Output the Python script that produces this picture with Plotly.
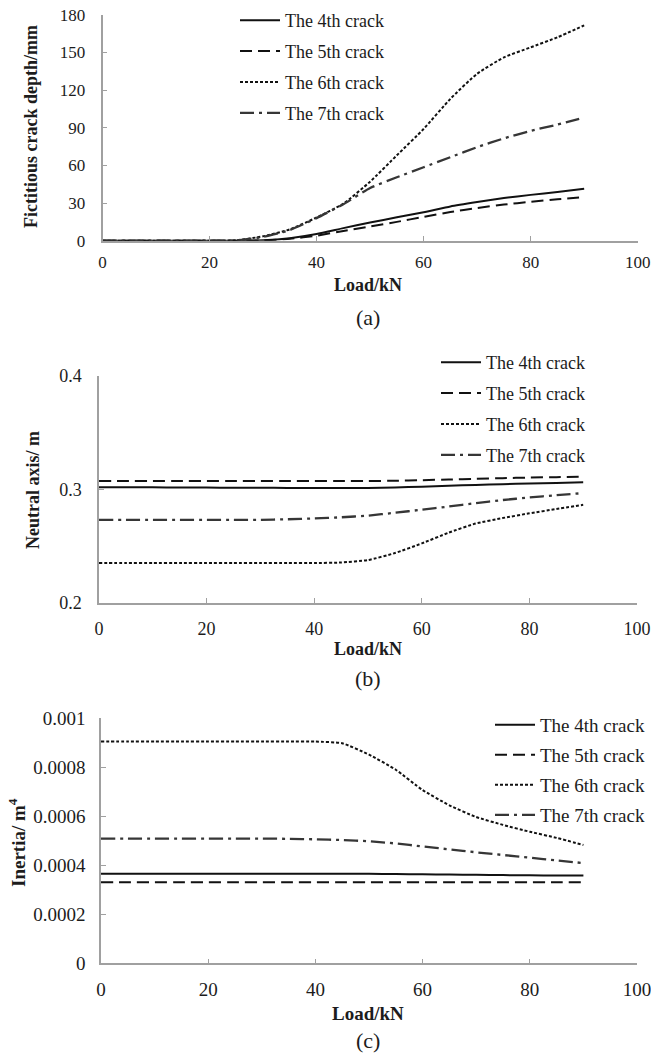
import plotly.graph_objects as go

# ---------------- data ----------------
load = [0, 5, 10, 15, 20, 25, 30, 35, 40, 45, 50, 55, 60, 65, 70, 75, 80, 85, 90]
names = ["The 4th crack", "The 5th crack", "The 6th crack", "The 7th crack"]

# (a) fictitious crack depth / mm
depth_4 = [0, 0, 0, 0, 0, 0, 0.3, 2, 5.3, 10, 14.5, 18.6, 22.6, 27.3, 30.8, 34, 36.5, 38.8, 41.3]
depth_5 = [0, 0, 0, 0, 0, 0, 0.2, 1.5, 4, 7.8, 11.3, 15, 19, 22.8, 26, 28.8, 31, 33, 34.8]
depth_6 = [0, 0, 0, 0, 0, 0.3, 3.5, 9, 18.5, 29.5, 47, 68, 89, 113, 133, 146, 154, 162, 171.5]
depth_7 = [0, 0, 0, 0, 0, 0.2, 3, 8.5, 18, 29, 42, 50.5, 58.5, 66.5, 74.5, 81.5, 87.5, 92.5, 98]

# (b) neutral axis / m
na_4 = [0.3020, 0.3020, 0.3019, 0.3018, 0.3017, 0.3016, 0.3015, 0.3014, 0.3013, 0.3013,
        0.3014, 0.3018, 0.3025, 0.3033, 0.3040, 0.3047, 0.3053, 0.3058, 0.3063]
na_5 = [0.3075, 0.3075, 0.3075, 0.3075, 0.3075, 0.3075, 0.3075, 0.3075, 0.3075, 0.3075,
        0.3075, 0.3077, 0.3082, 0.3088, 0.3094, 0.3100, 0.3105, 0.3109, 0.3113]
na_6 = [0.2352, 0.2352, 0.2352, 0.2352, 0.2352, 0.2352, 0.2352, 0.2352, 0.2352, 0.2357,
        0.2378, 0.2440, 0.2525, 0.2620, 0.2700, 0.2748, 0.2790, 0.2828, 0.2865]
na_7 = [0.2733, 0.2733, 0.2733, 0.2733, 0.2733, 0.2733, 0.2733, 0.2738, 0.2745, 0.2755,
        0.2770, 0.2795, 0.2822, 0.2850, 0.2880, 0.2907, 0.2930, 0.2950, 0.2968]

# (c) inertia / m^4
in_4 = [0.000365, 0.000365, 0.000365, 0.000365, 0.000365, 0.000365, 0.000365, 0.000365, 0.000365, 0.000365,
        0.000365, 0.000364, 0.000363, 0.000362, 0.000361, 0.000360, 0.000359, 0.000358, 0.000358]
in_5 = [0.000331] * 19
in_6 = [0.000905, 0.000905, 0.000905, 0.000905, 0.000905, 0.000905, 0.000905, 0.000905, 0.000905, 0.000898,
        0.000852, 0.000790, 0.000707, 0.000645, 0.000597, 0.000565, 0.000537, 0.000512, 0.000483]
in_7 = [0.000509, 0.000509, 0.000509, 0.000509, 0.000509, 0.000509, 0.000509, 0.000508, 0.000506, 0.000503,
        0.000498, 0.000489, 0.000477, 0.000465, 0.000453, 0.000442, 0.000431, 0.000420, 0.000409]

x_ticks = [0, 20, 40, 60, 80, 100]
ya_ticks = [0, 30, 60, 90, 120, 150, 180]
yb_ticks = [0.2, 0.3, 0.4]
yb_text = ["0.2", "0.3", "0.4"]
yc_ticks = [0, 0.0002, 0.0004, 0.0006, 0.0008, 0.001]
yc_text = ["0", "0.0002", "0.0004", "0.0006", "0.0008", "0.001"]

# ---------------- styling ----------------
F = "Liberation Serif, 'Times New Roman', Times, serif"
TXT = "#1c1c1c"
styles = [
    dict(color="#111111", width=2, dash="solid"),
    dict(color="#111111", width=2, dash="12px,6px"),
    dict(color="#111111", width=2, dash="3px,2px"),
    dict(color="#363636", width=2.3, dash="14px,5px,3px,5px"),
]

fig = go.Figure()
panels = [
    ([depth_4, depth_5, depth_6, depth_7], "x", "y", "legend"),
    ([na_4, na_5, na_6, na_7], "x2", "y2", "legend2"),
    ([in_4, in_5, in_6, in_7], "x3", "y3", "legend3"),
]
for p, (series, xa, ya, lg) in enumerate(panels):
    for i, s in enumerate(series):
        fig.add_trace(go.Scatter(
            x=load, y=s, mode="lines", name=names[i],
            line=dict(shape="spline", smoothing=0.5, **styles[i]),
            xaxis=xa, yaxis=ya, legend=lg, legendgroup=f"{lg}_{i}",
            showlegend=True, hoverinfo="skip"))

W, H = 651, 1053


def fx(px):
    return px / W


def fy(py):
    return 1 - py / H


def axis_common(size):
    return dict(showline=True, linecolor="#a0a0a0", linewidth=1.5,
                ticks="inside", ticklen=5, tickcolor="#a0a0a0", tickwidth=1,
                showgrid=False, zeroline=False, automargin=False,
                ticklabeloverflow="allow",
                tickfont=dict(family=F, size=size, color=TXT))


fig.update_layout(
    width=W, height=H, margin=dict(l=0, r=0, t=0, b=0),
    paper_bgcolor="white", plot_bgcolor="white", showlegend=True,
    xaxis=dict(domain=[fx(102.5), fx(637.7)], range=[0, 100], anchor="y",
               tickvals=x_ticks, ticklabelstandoff=5, **axis_common(17)),
    yaxis=dict(domain=[fy(240.7), fy(14.7)], range=[0, 180], anchor="x",
               tickvals=ya_ticks, ticklabelstandoff=12, **axis_common(17)),
    xaxis2=dict(domain=[fx(99), fx(637)], range=[0, 100], anchor="y2",
                tickvals=x_ticks, ticklabelstandoff=9, **axis_common(18)),
    yaxis2=dict(domain=[fy(603), fy(376)], range=[0.2, 0.4], anchor="x2",
                tickvals=yb_ticks, ticktext=yb_text, ticklabelstandoff=12, **axis_common(18)),
    xaxis3=dict(domain=[fx(101), fx(637)], range=[0, 100], anchor="y3",
                tickvals=x_ticks, ticklabelstandoff=8, **axis_common(19)),
    yaxis3=dict(domain=[fy(963.3), fy(718.3)], range=[0, 0.001], anchor="x3",
                tickvals=yc_ticks, ticktext=yc_text, ticklabelstandoff=10, **axis_common(19)),
)

leg_common = dict(xanchor="left", yanchor="top", bgcolor="rgba(0,0,0,0)",
                  borderwidth=0, itemwidth=40, itemclick=False)
fig.update_layout(
    legend=dict(x=fx(235), y=fy(2), tracegroupgap=4.5,
                font=dict(family=F, size=18, color=TXT), **leg_common),
    legend2=dict(x=fx(436), y=fy(344), tracegroupgap=4.5,
                 font=dict(family=F, size=18, color=TXT), **leg_common),
    legend3=dict(x=fx(490), y=fy(706), tracegroupgap=2.3,
                 font=dict(family=F, size=19, color=TXT), **leg_common),
)

ann = []
# y-axis titles
ann.append(dict(text="<b>Fictitious crack depth/mm</b>", x=fx(31), y=fy(127), textangle=-90,
                font=dict(family=F, size=18, color=TXT)))
ann.append(dict(text="<b>Neutral axis/ m</b>", x=fx(33), y=fy(490), textangle=-90,
                font=dict(family=F, size=18, color=TXT)))
ann.append(dict(text="<b>Inertia/ m<sup>4</sup></b>", x=fx(17), y=fy(843), textangle=-90,
                font=dict(family=F, size=19, color=TXT)))
# x-axis titles
for yy, sz in [(285, 18), (649, 18), (1013, 19)]:
    ann.append(dict(text="<b>Load/kN</b>", x=fx(368), y=fy(yy),
                    font=dict(family=F, size=sz, color=TXT)))
# captions
for yy, cap in [(317, "(a)"), (678, "(b)"), (1040, "(c)")]:
    ann.append(dict(text=cap, x=fx(368), y=fy(yy), font=dict(family=F, size=22, color=TXT)))
for a in ann:
    a.update(xref="paper", yref="paper", xanchor="center", yanchor="middle", showarrow=False)
fig.update_layout(annotations=ann)

fig.write_html("out.html")
